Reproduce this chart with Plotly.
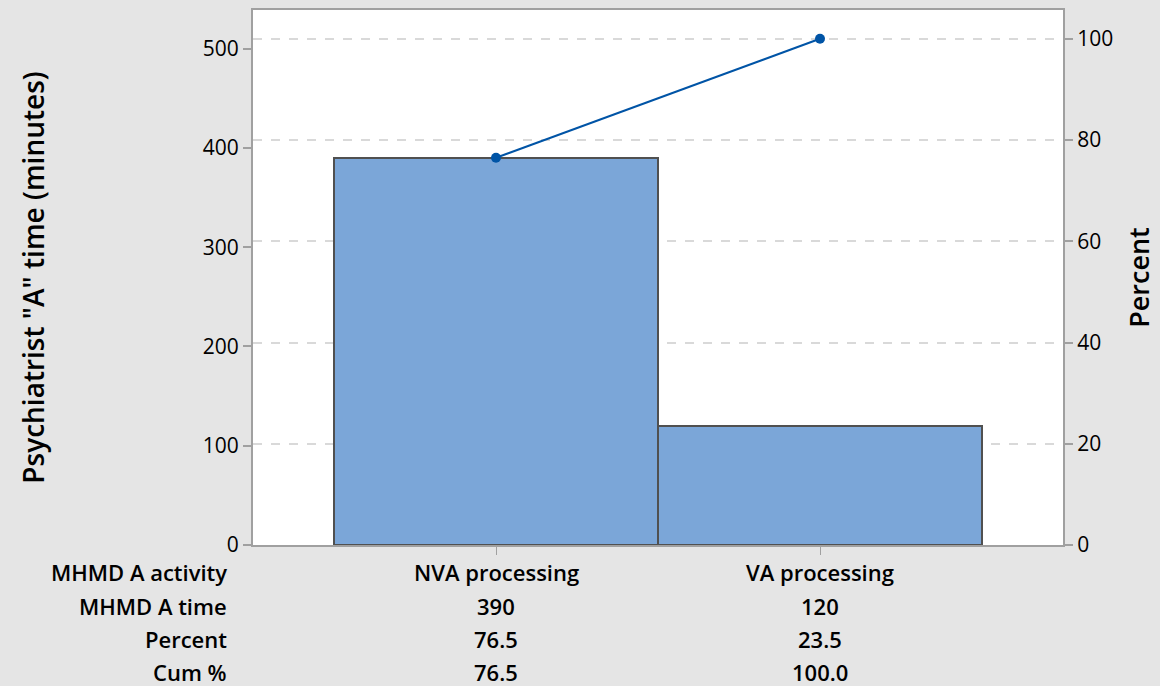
import plotly.graph_objects as go

categories = ["NVA processing", "VA processing"]
times = [390, 120]
percent = [76.5, 23.5]
cum_percent = [76.5, 100.0]
time_labels = ["390", "120"]
percent_labels = ["76.5", "23.5"]
cum_labels = ["76.5", "100.0"]
row_labels = ["MHMD A activity", "MHMD A time", "Percent", "Cum %"]

total = sum(times)
FONT = "Open Sans"
fig = go.Figure()
fig.add_trace(go.Bar(
    x=categories, y=times, width=1,
    marker=dict(color="#7BA6D8", line=dict(color="#505050", width=2)),
    yaxis="y", showlegend=False, hoverinfo="skip"))
fig.add_trace(go.Scatter(
    x=categories, y=cum_percent, mode="lines+markers",
    line=dict(color="#0054A6", width=2),
    marker=dict(color="#0054A6", size=10),
    yaxis="y2", showlegend=False, hoverinfo="skip"))

ytop = 539
fig.update_layout(
    width=1160, height=686,
    paper_bgcolor="#E5E5E5", plot_bgcolor="white",
    margin=dict(l=253, r=97, t=8, b=141),
    font=dict(family=FONT, size=20, color="black"),
    bargap=0,
    xaxis=dict(type="category", range=[-0.75, 1.75], showticklabels=False,
               ticks="outside", ticklen=8, tickcolor="#A0A0A0", tickwidth=1,
               showline=True, linecolor="#A0A0A0", linewidth=2, mirror=True,
               showgrid=False, zeroline=False),
    yaxis=dict(range=[0, ytop], tickvals=[0, 100, 200, 300, 400, 500],
               ticks="outside", ticklen=8, tickcolor="#A0A0A0", tickwidth=2,
               showline=True, linecolor="#A0A0A0", linewidth=2,
               showgrid=False, zeroline=False,
               title=dict(text='Psychiatrist "A" time (minutes)',
                          font=dict(size=28, weight=600), standoff=150),
               tickfont=dict(size=21, weight=500)),
    yaxis2=dict(range=[0, ytop / total * 100], overlaying="y", side="right",
                tickvals=[0, 20, 40, 60, 80, 100],
                ticks="outside", ticklen=8, tickcolor="#A0A0A0", tickwidth=2,
                showline=True, linecolor="#A0A0A0", linewidth=2,
                showgrid=True, gridcolor="#D9D9D9", griddash="dash", gridwidth=1.5,
                zeroline=False, layer="below traces",
                title=dict(text="Percent", font=dict(size=27, weight=600), standoff=18),
                tickfont=dict(size=21, weight=500)),
)

rows = [categories, time_labels, percent_labels, cum_labels]
row_y = [572, 606, 639, 672]
for lab, ypx, vals in zip(row_labels, row_y, rows):
    yp = (686 - 141 - ypx) / (686 - 141 - 8)
    fig.add_annotation(text=lab, xref="paper", x=-0.03, yref="paper", y=yp,
                       xanchor="right", yanchor="middle", showarrow=False,
                       font=dict(size=22, weight=600))
    for c, v in zip(categories, vals):
        fig.add_annotation(text=v, xref="x", x=c, yref="paper", y=yp,
                           xanchor="center", yanchor="middle", showarrow=False,
                           font=dict(size=22, weight=600))

fig.write_html("out.html", config={"displayModeBar": False},
               post_script="document.body.style.margin='0';document.body.style.overflow='hidden';")
